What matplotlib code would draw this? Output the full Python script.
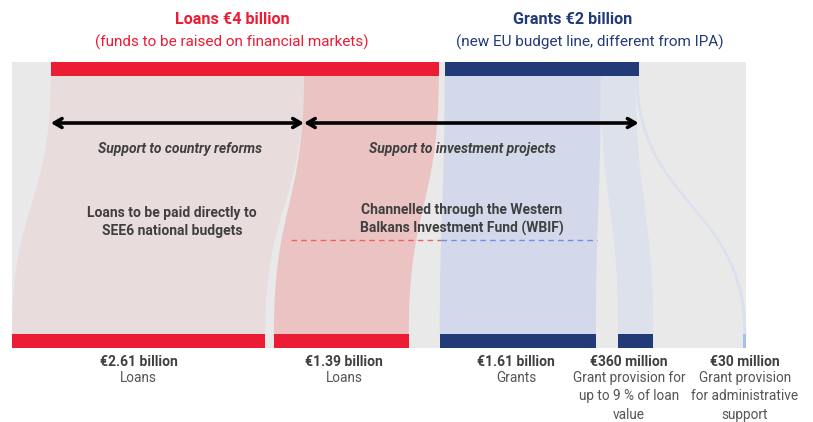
import matplotlib
matplotlib.use("Agg")
import matplotlib.pyplot as plt
from matplotlib.path import Path
from matplotlib.patches import PathPatch, Rectangle
import numpy as np

plt.rcParams['font.family'] = ['Roboto', 'DejaVu Sans']

# ---------------- data ----------------
source_titles = ["Loans €4 billion", "Grants €2 billion"]
source_notes = ["(funds to be raised on financial markets)",
                "(new EU budget line, different from IPA)"]
source_values = [4.0, 2.0]

target_values = [2.61, 1.39, 1.61, 0.36, 0.03]
target_source = [0, 0, 1, 1, 1]
target_titles = ["€2.61 billion", "€1.39 billion", "€1.61 billion",
                 "€360 million", "€30 million"]
target_notes = ["Loans", "Loans", "Grants",
                "Grant provision for\nup to 9 % of loan\nvalue",
                "Grant provision\nfor administrative\nsupport"]

arrow_labels = ["Support to country reforms", "Support to investment projects"]
flow_labels = ["Loans to be paid directly to\nSEE6 national budgets",
               "Channelled through the Western\nBalkans Investment Fund (WBIF)"]

# ---------------- layout / style ----------------
PX_PER_BN = 97.0
X0_PX = 12.0
W, H = 813, 422
top_start = 0.40
top_gap = 0.06
bottom_gaps = [0.09, 0.32, 0.23, 0.93]
label_dx = [0.0, 0.03, -0.02, -0.07, 0.0]
Y_TOP_BAR, BAR_H = 62, 14
Y_F0, Y_F1 = Y_TOP_BAR + BAR_H, 334

RED = '#ec1c34'
NAVY = '#233a78'
GRAY_BG = '#e9e9e9'
TXT = '#3f3f3f'
TXT2 = '#555555'
source_colors = [RED, NAVY]
target_colors = [RED, RED, NAVY, NAVY, '#a9bdee']
flow_colors = ['#e8dcdc', '#ebc3c3', '#d3d8ea', '#dde1ec', '#dbe0f0']

fig = plt.figure(figsize=(W / 100, H / 100), dpi=100)
ax = fig.add_axes([0, 0, 1, 1])
ax.set_xlim(-X0_PX / PX_PER_BN, (W - X0_PX) / PX_PER_BN)
ax.set_ylim(H, 0)
ax.axis('off')

# source positions
src_x = []
x = top_start
for v in source_values:
    src_x.append(x)
    x += v + top_gap

# target positions
tgt_x = []
x = 0.0
for i, v in enumerate(target_values):
    tgt_x.append(x)
    x += v + (bottom_gaps[i] if i < len(bottom_gaps) else 0)
x_end = tgt_x[-1] + target_values[-1]

# background
ax.add_patch(Rectangle((0, Y_TOP_BAR), x_end, Y_F1 + BAR_H - Y_TOP_BAR,
                       facecolor=GRAY_BG, edgecolor='none', zorder=0))

# flows
ym = (Y_F0 + Y_F1) / 2
cursor = list(src_x)
flow_edges = []
for i, v in enumerate(target_values):
    s = target_source[i]
    a0, b0 = cursor[s], cursor[s] + v
    cursor[s] = b0
    a1, b1 = tgt_x[i], tgt_x[i] + v
    flow_edges.append((a0, b0, a1, b1))
    verts = [(a0, Y_F0), (a0, ym), (a1, ym), (a1, Y_F1),
             (b1, Y_F1), (b1, ym), (b0, ym), (b0, Y_F0), (a0, Y_F0)]
    codes = [Path.MOVETO, Path.CURVE4, Path.CURVE4, Path.CURVE4,
             Path.LINETO, Path.CURVE4, Path.CURVE4, Path.CURVE4, Path.CLOSEPOLY]
    ax.add_patch(PathPatch(Path(verts, codes), facecolor=flow_colors[i],
                           edgecolor='none', zorder=1))


def edge_x_at(xa, xb, y):
    t = np.linspace(0, 1, 2001)
    yy = Y_F0 * (1 - t) ** 3 + 3 * (1 - t) ** 2 * t * ym + 3 * (1 - t) * t ** 2 * ym + Y_F1 * t ** 3
    xx = xa * (1 - t) ** 3 + 3 * (1 - t) ** 2 * t * xa + 3 * (1 - t) * t ** 2 * xb + xb * t ** 3
    return float(np.interp(y, yy, xx))


# source bars
for i, v in enumerate(source_values):
    ax.add_patch(Rectangle((src_x[i], Y_TOP_BAR), v, BAR_H,
                           facecolor=source_colors[i], edgecolor='none', zorder=3))
# target bars
for i, v in enumerate(target_values):
    ax.add_patch(Rectangle((tgt_x[i], Y_F1), v, BAR_H,
                           facecolor=target_colors[i], edgecolor='none', zorder=3))

# source titles
title_dx = [-0.13, 0.32]
note_dx = [-0.13, 0.50]
for i, v in enumerate(source_values):
    cx = src_x[i] + v / 2
    ax.text(cx + title_dx[i], 20, source_titles[i], ha='center', va='center',
            fontsize=11.6, fontweight='bold', color=source_colors[i])
    ax.text(cx + note_dx[i], 42, source_notes[i], ha='center', va='center',
            fontsize=11.0, color=source_colors[i])

# arrows
Y_ARR = 123
arrow_spans = [(src_x[0], src_x[0] + target_values[0]),
               (src_x[0] + target_values[0], src_x[1] + source_values[1])]
for (xa, xb), lab in zip(arrow_spans, arrow_labels):
    ax.annotate('', xy=(xb, Y_ARR), xytext=(xa, Y_ARR),
                arrowprops=dict(arrowstyle='<->,head_length=0.55,head_width=0.32',
                                lw=2.6, color='black', shrinkA=0, shrinkB=0),
                zorder=5)
arrow_label_x = [(180 - X0_PX) / PX_PER_BN, (462 - X0_PX) / PX_PER_BN]
for xl, lab in zip(arrow_label_x, arrow_labels):
    ax.text(xl, 149, lab, ha='center', va='center', fontsize=10,
            fontweight='bold', fontstyle='italic', color=TXT)

# flow labels
ax.text((172 - X0_PX) / PX_PER_BN, 222, flow_labels[0], ha='center', va='center',
        fontsize=10, fontweight='bold', color=TXT, linespacing=1.4)
ax.text((462 - X0_PX) / PX_PER_BN, 219.5, flow_labels[1], ha='center', va='center',
        fontsize=10, fontweight='bold', color=TXT, linespacing=1.4)

# dashed WBIF line
Y_DASH = 240
a0, b0, a1, b1 = flow_edges[1]
x_red0 = edge_x_at(a0, a1, Y_DASH) + 0.1
a0b, b0b, a1b, b1b = flow_edges[2]
x_mid = edge_x_at(a0b, a1b, Y_DASH)
x_blue1 = edge_x_at(b0b, b1b, Y_DASH)
ax.plot([x_red0, x_mid], [Y_DASH, Y_DASH], ls=(0, (4, 3)), color='#f06262', lw=1.0, zorder=4)
ax.plot([x_mid, x_blue1], [Y_DASH, Y_DASH], ls=(0, (4, 3)), color='#6f8fe6', lw=1.0, zorder=4)

# target labels
for i, v in enumerate(target_values):
    cx = tgt_x[i] + v / 2 + label_dx[i]
    ax.text(cx, 362, target_titles[i], ha='center', va='center',
            fontsize=10, fontweight='bold', color=TXT)
    ax.text(cx, 371, target_notes[i], ha='center', va='top',
            fontsize=9.8, color=TXT2, linespacing=1.4)

fig.savefig('out.png', dpi=100)
